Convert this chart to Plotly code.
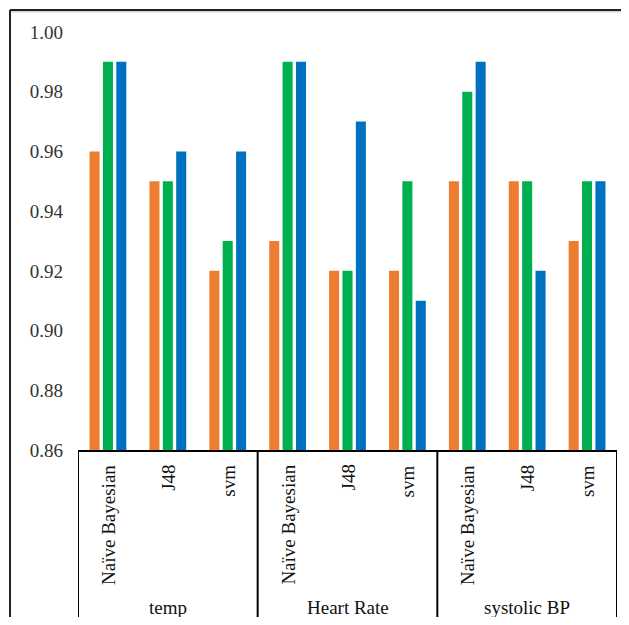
import plotly.graph_objects as go

groups = ["temp", "Heart Rate", "systolic BP"]
methods = ["Naïve Bayesian", "J48", "svm"]
series_a = [0.96, 0.95, 0.92, 0.93, 0.92, 0.92, 0.95, 0.95, 0.93]  # orange
series_b = [0.99, 0.95, 0.93, 0.99, 0.92, 0.95, 0.98, 0.95, 0.95]  # green
series_c = [0.99, 0.96, 0.96, 0.99, 0.97, 0.91, 0.99, 0.92, 0.95]  # blue
y_ticks = [0.86, 0.88, 0.90, 0.92, 0.94, 0.96, 0.98, 1.00]

cats = [f"{g} | {m}" for g in groups for m in methods]
colors = ["#ED7D31", "#00B050", "#0070C0"]
FONT = "Liberation Serif, Times New Roman, serif"

fig = go.Figure()
for vals, col in zip([series_a, series_b, series_c], colors):
    fig.add_trace(go.Bar(x=cats, y=vals, marker=dict(color=col, line=dict(width=0)),
                         showlegend=False))

OFF = 8  # page body margin offset
W, H = 629 - 2 * OFF, 625 - 2 * OFF
L, T = 78 - OFF, 32 - OFF
R = W - (617 - OFF)
B = H - (450 - OFF)
pw, ph = W - L - R, H - T - B

def px_x(px):
    return (px - OFF - L) / pw

def px_y(py):
    return (H - B - (py - OFF)) / ph

fig.update_layout(
    width=W, height=H,
    margin=dict(l=L, r=R, t=T, b=B),
    paper_bgcolor="white", plot_bgcolor="white",
    barmode="group", bargap=0.33, bargroupgap=0.25,
    font=dict(family=FONT, size=19, color="#262626"),
)
fig.update_xaxes(type="category", categoryorder="array", categoryarray=cats,
                 range=[-0.5, len(cats) - 0.5], showticklabels=False, ticks="",
                 showgrid=False, zeroline=False, showline=True, linecolor="black", linewidth=2)
fig.update_yaxes(range=[0.86, 1.00], tickvals=y_ticks, tickformat=".2f",
                 showgrid=False, zeroline=False, showline=False, ticks="",
                 ticklabelstandoff=14, tickfont=dict(family=FONT, size=19, color="#333333"))

annotations = []
for i, c in enumerate(cats):
    m = methods[i % len(methods)]
    annotations.append(dict(x=i, y=px_y(463), xref="x", yref="paper", text=m,
                            textangle=-90, showarrow=False, xanchor="center", yanchor="top",
                            font=dict(family=FONT, size=19, color="#111111")))
for gi, g in enumerate(groups):
    annotations.append(dict(x=gi * 3 + 1, y=px_y(607), xref="x", yref="paper", text=g,
                            showarrow=False, xanchor="center", yanchor="middle",
                            font=dict(family=FONT, size=19, color="#111111")))
fig.update_layout(annotations=annotations)

shapes = []
for k in range(len(groups) + 1):
    xd = k * 3 - 0.5
    shapes.append(dict(type="line", xref="x", yref="paper", x0=xd, x1=xd,
                       y0=0, y1=px_y(618), line=dict(color="black", width=2)))
# outer frame (top and left)
shapes.append(dict(type="line", xref="paper", yref="paper", x0=px_x(10), x1=px_x(640),
                   y0=px_y(10), y1=px_y(10), line=dict(color="#222222", width=2)))
shapes.append(dict(type="line", xref="paper", yref="paper", x0=px_x(10), x1=px_x(640),
                   y0=px_y(11.8), y1=px_y(11.8), line=dict(color="#bbbbbb", width=1)))
shapes.append(dict(type="line", xref="paper", yref="paper", x0=px_x(10), x1=px_x(10),
                   y0=px_y(10), y1=px_y(640), line=dict(color="#222222", width=2)))
fig.update_layout(shapes=shapes)

fig.write_html("out.html")
